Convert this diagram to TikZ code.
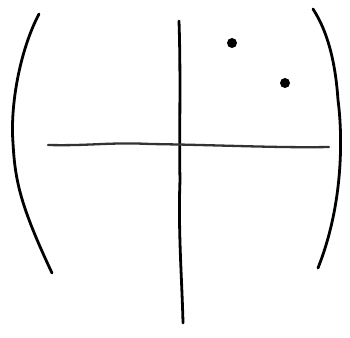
\documentclass[tikz,border=0pt]{standalone}
\begin{document}
\begin{tikzpicture}[x=1pt,y=-1pt,
  ink/.style={line width=2.8pt,line cap=round,line join=round,black},
  thin ink/.style={line width=2.3pt,line cap=round,black!80}]
\useasboundingbox (0,0) rectangle (350,337);
% left paren
\coordinate (lt) at (39,14);
\coordinate (lb) at (52,273);
\draw[ink] (lt) .. controls (20,50) and (10,105) .. (13,143)
  .. controls (15,180) and (20,205) .. (lb);
% right paren
\coordinate (rt) at (313,9);
\coordinate (rb) at (318,268);
\draw[ink] (rt) .. controls (330,35) and (336,70) .. (338,100)
  .. controls (342,130) and (345,200) .. (rb);
% vertical axis
\coordinate (vt) at (179,21);
\coordinate (vb) at (183,323);
\draw[ink] (vt) .. controls (181,80) and (179,140) .. (180,180)
  .. controls (178,230) and (182,280) .. (vb);
% horizontal axis
\coordinate (hl) at (48,145);
\coordinate (hr) at (329,147);
\draw[thin ink] (hl) .. controls (90,146) and (110,142) .. (150,144)
  .. controls (220,145) and (280,148) .. (hr);
% dots
\node[circle,fill=black,inner sep=0pt,minimum size=10pt] (d1) at (232,43) {};
\node[circle,fill=black,inner sep=0pt,minimum size=10pt] (d2) at (285,83) {};
\end{tikzpicture}
\end{document}
